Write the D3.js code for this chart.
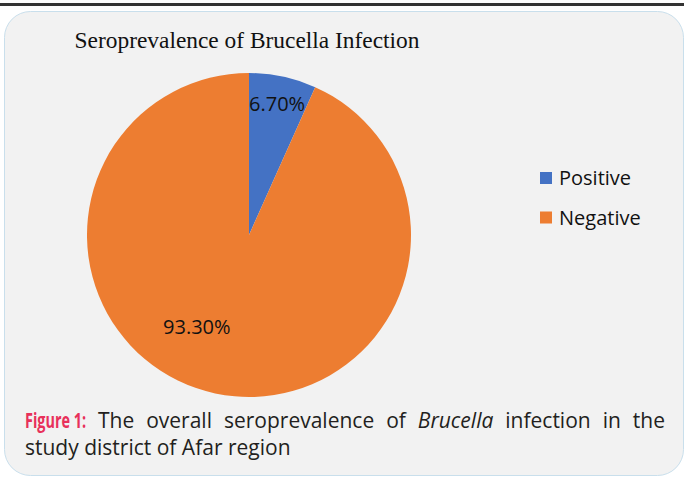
<!DOCTYPE html>
<html>
<head>
<meta charset="utf-8">
<script src="https://cdn.jsdelivr.net/npm/d3@7"></script>
<style>
  html, body { margin: 0; padding: 0; background: #fff; }
  svg { display: block; }
</style>
</head>
<body>
<div class="chart"></div>
<script>
const categories = ['Positive', 'Negative']
const values = [6.7, 93.3]
const valueLabels = ['6.70%', '93.30%']
const colors = ['#4472c4', '#ed7d31']
const chartTitle = 'Seroprevalence of Brucella Infection'

const W = 684
const H = 477
const cx = 249
const cy = 235
const radius = 162

const svg = d3.select('.chart')
  .append('svg')
  .attr('width', W)
  .attr('height', H)

// top rule and panel
svg.append('rect')
  .attr('x', 0).attr('y', 3)
  .attr('width', W).attr('height', 3)
  .attr('fill', '#333')

svg.append('rect')
  .attr('x', 4.5).attr('y', 11.5)
  .attr('width', 679).attr('height', 464)
  .attr('rx', 26).attr('ry', 26)
  .attr('fill', '#f2f2f2')
  .attr('stroke', '#c9dfec')
  .attr('stroke-width', 1)

svg.append('text')
  .attr('x', 247)
  .attr('y', 48)
  .attr('text-anchor', 'middle')
  .attr('font-family', 'Liberation Serif, Times New Roman, serif')
  .attr('font-size', 23.4)
  .attr('fill', '#111')
  .text(chartTitle)

const data = categories.map((c, i) => ({ cat: c, value: values[i], label: valueLabels[i], color: colors[i] }))

const pie = d3.pie()
  .value(d => d.value)
  .sort(null)

const arc = d3.arc()
  .innerRadius(0)
  .outerRadius(radius)

const g = svg.append('g')
  .attr('transform', `translate(${cx},${cy})`)

const slices = pie(data)

g.selectAll('.slice')
  .data(slices)
  .enter()
  .append('path')
  .attr('class', 'slice')
  .attr('d', arc)
  .attr('fill', d => d.data.color)

// excel "best fit" label spots: radius fraction, angle (null = slice middle)
const labelSpots = { Positive: [0.83, null], Negative: [0.65, 3.66] }

g.selectAll('.lbl')
  .data(slices)
  .enter()
  .append('text')
  .attr('class', 'lbl')
  .attr('x', d => {
    const [f, a] = labelSpots[d.data.cat]
    const ang = a == null ? (d.startAngle + d.endAngle) / 2 : a
    return Math.sin(ang) * radius * f
  })
  .attr('y', d => {
    const [f, a] = labelSpots[d.data.cat]
    const ang = a == null ? (d.startAngle + d.endAngle) / 2 : a
    return -Math.cos(ang) * radius * f
  })
  .attr('dy', '0.36em')
  .attr('text-anchor', 'middle')
  .attr('font-family', 'Open Sans, sans-serif')
  .attr('font-size', 20)
  .attr('fill', '#111')
  .text(d => d.data.label)

// legend
const legend = svg.append('g')
  .attr('transform', 'translate(540,172)')

const item = legend.selectAll('.item')
  .data(data)
  .enter()
  .append('g')
  .attr('class', 'item')
  .attr('transform', (d, i) => `translate(0,${i * 39.5})`)

item.append('rect')
  .attr('width', 12)
  .attr('height', 12)
  .attr('fill', d => d.color)

item.append('text')
  .attr('x', 19)
  .attr('y', 13)
  .attr('font-family', 'Open Sans, sans-serif')
  .attr('font-size', 20)
  .attr('fill', '#111')
  .text(d => d.cat)

// caption, justified first line
const capFont = 'Open Sans, sans-serif'
const capSize = 21
const line1 = [
  { t: 'Figure 1:', weight: 'bold', fill: '#e8305a', len: 61 },
  { t: 'The' }, { t: 'overall' }, { t: 'seroprevalence' }, { t: 'of' },
  { t: 'Brucella', style: 'italic' }, { t: 'infection' }, { t: 'in' }, { t: 'the' }
]
const line2 = 'study district of Afar region'

const cap1 = svg.append('g')
  .attr('transform', 'translate(25,428)')

const wordG = cap1.selectAll('g')
  .data(line1)
  .enter()
  .append('g')

const words = wordG.append('text')
  .attr('font-family', capFont)
  .attr('font-size', capSize)
  .attr('font-weight', d => d.weight || 'normal')
  .attr('font-style', d => d.style || 'normal')
  .attr('fill', d => d.fill || '#231f20')
  .text(d => d.t)

const natural = words.nodes().map(n => n.getComputedTextLength())
const widths = natural.map((w, i) => line1[i].len || w)
const gap = (665 - 25 - d3.sum(widths)) / (widths.length - 1)
let xx = 0
wordG.attr('transform', (d, i) => {
  const x0 = xx
  xx += widths[i] + gap
  return `translate(${x0},0) scale(${widths[i] / natural[i]},1)`
})

svg.append('text')
  .attr('x', 25)
  .attr('y', 455)
  .attr('font-family', capFont)
  .attr('font-size', capSize)
  .attr('fill', '#231f20')
  .text(line2)
</script>
</body>
</html>
